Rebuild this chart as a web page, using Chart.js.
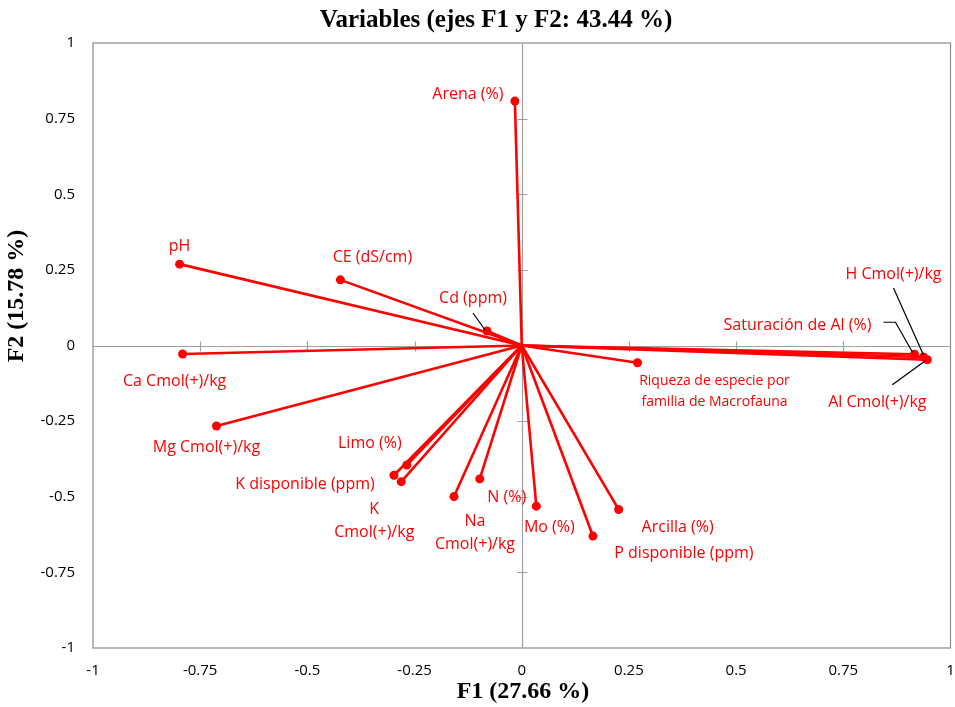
<!DOCTYPE html>
<html>
<head>
<meta charset="utf-8">
<script src="https://cdn.jsdelivr.net/npm/chart.js@4"></script>
<style>
  html, body { margin: 0; padding: 0; background: #fff; }
  #wrap { width: 955px; height: 707px; position: relative; }
</style>
</head>
<body>
<div id="wrap"><canvas id="chart" width="955" height="707"></canvas></div>
<script>
// variables and their loadings on F1 / F2
const names = [
  'Arena (%)', 'pH', 'CE (dS/cm)', 'Cd (ppm)', 'Ca Cmol(+)/kg', 'Mg Cmol(+)/kg',
  'Limo (%)', 'K disponible (ppm)', 'K\nCmol(+)/kg', 'Na\nCmol(+)/kg', 'N (%)', 'Mo (%)',
  'Riqueza de especie por\nfamilia de Macrofauna', 'Arcilla (%)', 'P disponible (ppm)',
  'Saturación de Al (%)', 'H Cmol(+)/kg', 'Al Cmol(+)/kg'
];
const f1 = [-0.016, -0.798, -0.423, -0.081, -0.791, -0.712, -0.268, -0.298, -0.281, -0.158, -0.098, 0.034, 0.270, 0.226, 0.166, 0.916, 0.937, 0.946];
const f2 = [0.808, 0.269, 0.217, 0.048, -0.028, -0.266, -0.395, -0.429, -0.450, -0.499, -0.441, -0.531, -0.057, -0.542, -0.630, -0.029, -0.038, -0.047];
const axisTicks = [-1, -0.75, -0.5, -0.25, 0, 0.25, 0.5, 0.75, 1];

// label placement (pixel offsets from the point)
const labelDx = [-47, 0, 32, -14, -8, -10, -37, -89, -27, 21, 27, 13, 77, 59, 91, -117, -30, -50];
const labelDy = [-7, -18, -22, -33, 27, 21, -22, 9, 39, 36, 19, 21, 29, 18, 17, -29, -83, 43];
// leader lines (pixel offsets from the point)
const leaders = {
  3: [[-14, -18], [-2, -1]],
  15: [[-31, -32], [-19, -32], [-2, -2]],
  16: [[-30, -69], [0, -2]],
  17: [[-35, 25], [-2, 1]]
};

const RED = '#ff0000';
const AXIS = '#a0a0a0';
const FONT = '"Open Sans", Lato, "Liberation Sans", sans-serif';

const datasets = names.map((n, i) => ({
  label: n,
  data: [{ x: 0, y: 0 }, { x: f1[i], y: f2[i] }],
  borderColor: RED,
  backgroundColor: RED,
  borderWidth: 2.6,
  showLine: true,
  pointRadius: ctx => ctx.dataIndex ? 4.5 : 0,
  pointHoverRadius: ctx => ctx.dataIndex ? 4.5 : 0,
  pointBorderWidth: 0
}));

const frame = {
  id: 'frame',
  beforeDatasetsDraw(chart) {
    const { ctx, chartArea: a, scales: { x, y } } = chart;
    ctx.save();
    ctx.strokeStyle = '#8c8c8c';
    ctx.lineWidth = 1.2;
    ctx.strokeRect(a.left, a.top, a.right - a.left, a.bottom - a.top);
    // axes through the origin
    const x0 = Math.round(x.getPixelForValue(0)) + 0.5;
    const y0 = Math.round(y.getPixelForValue(0)) + 0.5;
    ctx.strokeStyle = AXIS;
    ctx.lineWidth = 1.2;
    ctx.beginPath();
    ctx.moveTo(a.left, y0); ctx.lineTo(a.right, y0);
    ctx.moveTo(x0, a.top); ctx.lineTo(x0, a.bottom);
    axisTicks.forEach(v => {
      if (v === 0 || Math.abs(v) === 1) return;
      const px = Math.round(x.getPixelForValue(v)) + 0.5;
      const py = Math.round(y.getPixelForValue(v)) + 0.5;
      ctx.moveTo(px, y0 - 5); ctx.lineTo(px, y0 + 5);
      ctx.moveTo(x0 - 5, py); ctx.lineTo(x0 + 5, py);
    });
    ctx.stroke();
    ctx.restore();
  },
  afterDatasetsDraw(chart) {
    const { ctx, scales: { x, y } } = chart;
    ctx.save();
    ctx.textAlign = 'center';
    ctx.textBaseline = 'middle';
    names.forEach((n, i) => {
      const px = x.getPixelForValue(f1[i]);
      const py = y.getPixelForValue(f2[i]);
      const lines = n.split('\n');
      const small = i === 12;
      ctx.fillStyle = RED;
      ctx.font = (small ? '14px ' : '16px ') + FONT;
      const lh = small ? 21 : 23;
      const cy = py + labelDy[i];
      lines.forEach((t, k) => {
        ctx.fillText(t, px + labelDx[i], cy + (k - (lines.length - 1) / 2) * lh);
      });
      if (leaders[i]) {
        ctx.strokeStyle = '#000';
        ctx.lineWidth = 1.2;
        ctx.beginPath();
        leaders[i].forEach(([dx, dy], k) => {
          if (k === 0) ctx.moveTo(px + dx, py + dy); else ctx.lineTo(px + dx, py + dy);
        });
        ctx.stroke();
      }
    });
    // titles
    ctx.fillStyle = '#000';
    ctx.font = 'bold 25px "Liberation Serif", "Times New Roman", serif';
    ctx.fillText('Variables (ejes F1 y F2: 43.44 %)', 496, 21);
    ctx.font = 'bold 24px "Liberation Serif", "Times New Roman", serif';
    ctx.fillText('F1 (27.66 %)', 523, 692);
    ctx.translate(17, 296);
    ctx.rotate(-Math.PI / 2);
    ctx.fillText('F2 (15.78 %)', 0, 0);
    ctx.restore();
  }
};

new Chart(document.getElementById('chart'), {
  type: 'scatter',
  data: { datasets },
  options: {
    responsive: false,
    animation: false,
    events: [],
    layout: { padding: { top: 43, right: 2, left: 0, bottom: 0 } },
    plugins: { legend: { display: false }, tooltip: { enabled: false }, title: { display: false } },
    scales: {
      x: {
        type: 'linear', min: -1, max: 1,
        afterBuildTicks: s => { s.ticks = axisTicks.map(v => ({ value: v })); },
        afterFit: s => { s.height = 59; s.paddingLeft = 0; s.paddingRight = 0; },
        grid: { display: false, drawTicks: false },
        border: { display: false },
        ticks: { color: '#000', padding: 14, font: { family: FONT, size: 15 }, callback: v => String(v), maxRotation: 0 }
      },
      y: {
        type: 'linear', min: -1, max: 1,
        afterBuildTicks: s => { s.ticks = axisTicks.map(v => ({ value: v })); },
        afterFit: s => { s.width = 93; s.paddingTop = 0; s.paddingBottom = 0; },
        grid: { display: false, drawTicks: false },
        border: { display: false },
        ticks: { color: '#000', padding: 18, font: { family: FONT, size: 15 }, callback: v => String(v) }
      }
    }
  },
  plugins: [frame]
});
</script>
</body>
</html>
